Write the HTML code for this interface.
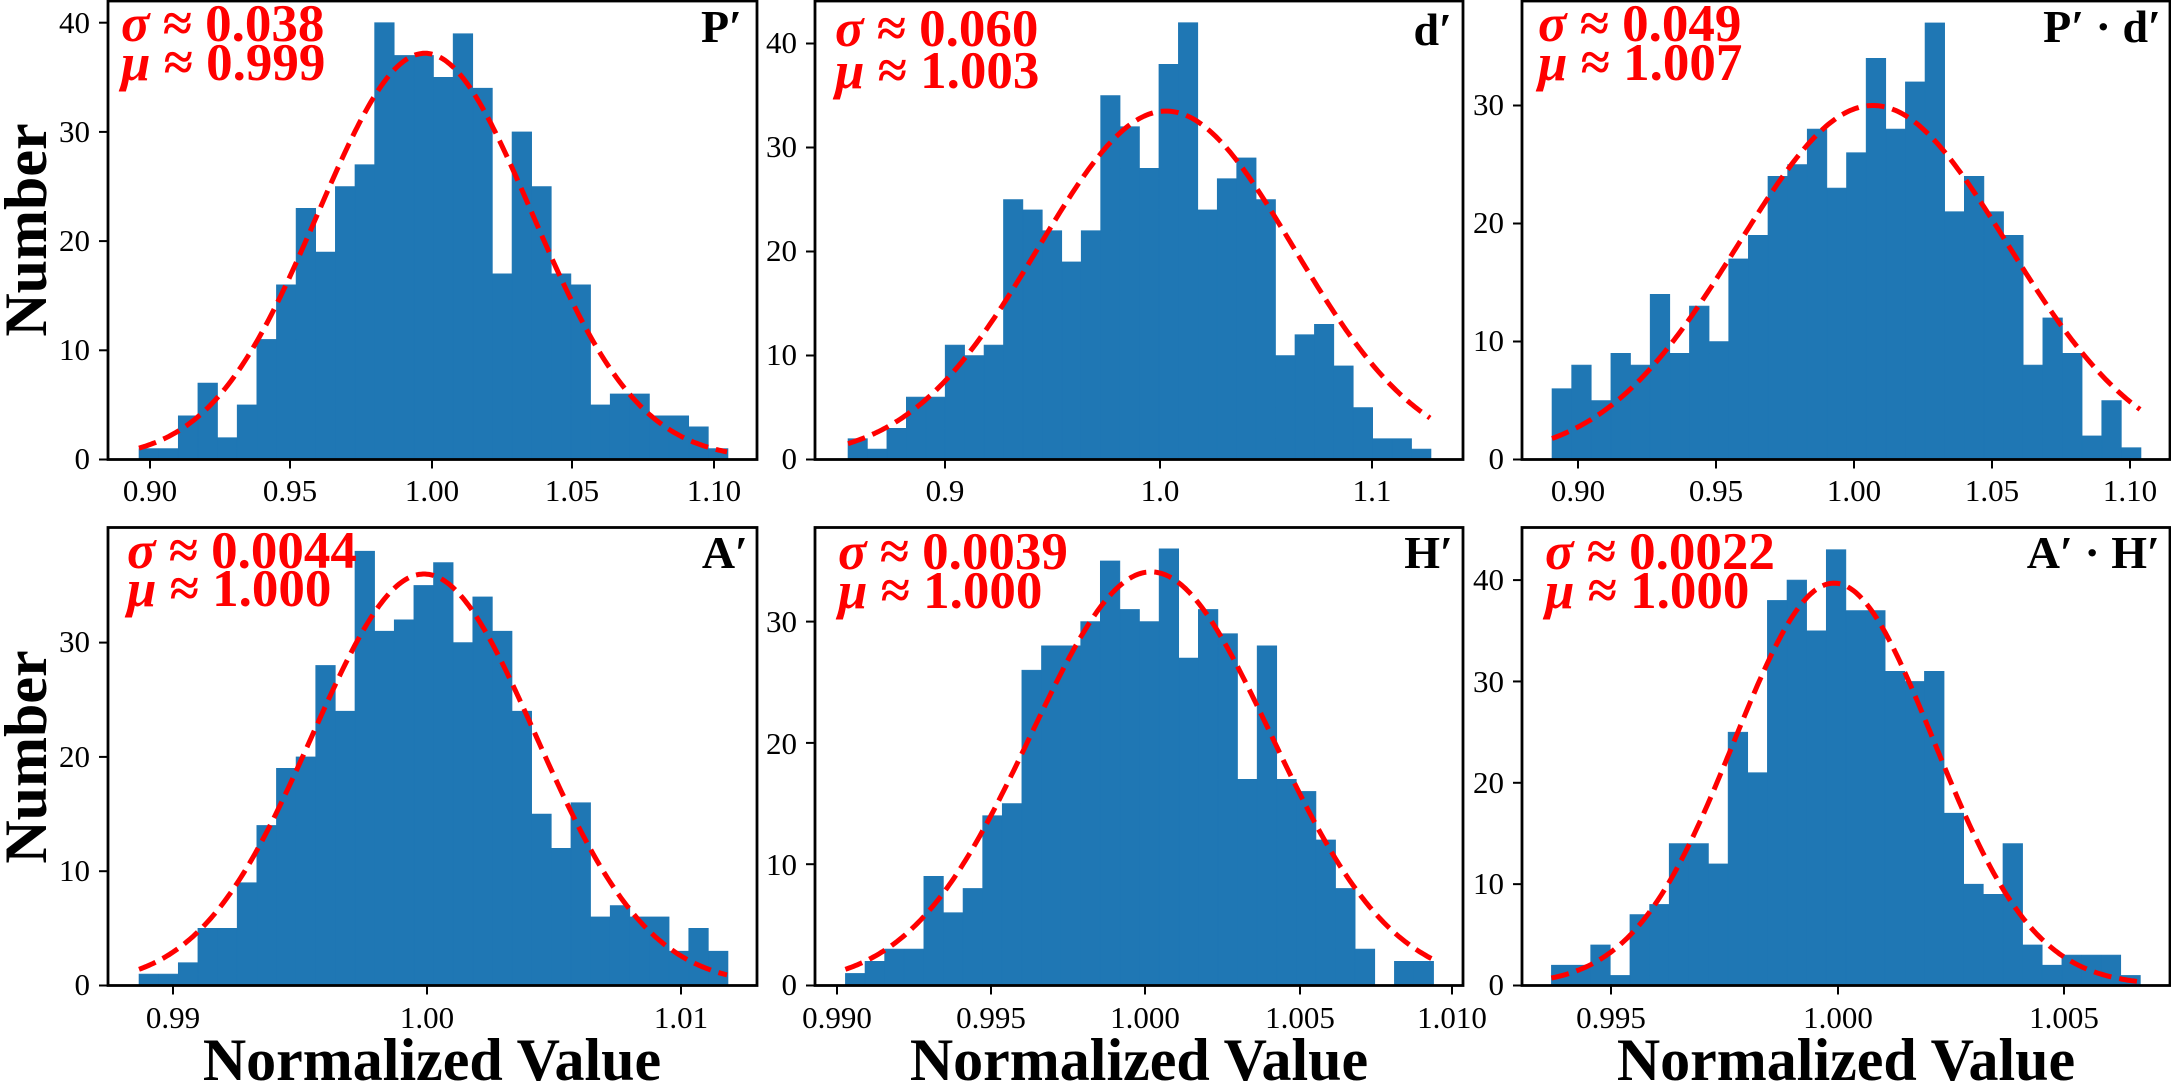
<!DOCTYPE html>
<html><head><meta charset="utf-8"><style>
html,body{margin:0;padding:0;background:#fff;}
svg{display:block;}
.t{font-family:"Liberation Serif",serif;font-size:31px;fill:#000;}
.a{font-family:"Liberation Serif",serif;font-size:53px;font-weight:bold;fill:#f00;}
.ti{font-family:"Liberation Serif",serif;font-size:46px;font-weight:bold;fill:#000;}
.lb{font-family:"Liberation Serif",serif;font-size:60px;font-weight:bold;fill:#000;}
</style></head><body>
<svg id="s" width="2171" height="1083" viewBox="0 0 2171 1083" xmlns="http://www.w3.org/2000/svg">
<g id="plots"></g>
<g class="t" text-anchor="end">
<text x="90" y="469">0</text><text x="90" y="360">10</text><text x="90" y="251">20</text><text x="90" y="142">30</text><text x="90" y="33">40</text>
<text x="797" y="469">0</text><text x="797" y="365">10</text><text x="797" y="261">20</text><text x="797" y="157">30</text><text x="797" y="53">40</text>
<text x="1504" y="469">0</text><text x="1504" y="351">10</text><text x="1504" y="233">20</text><text x="1504" y="115">30</text>
<text x="90" y="995">0</text><text x="90" y="881">10</text><text x="90" y="767">20</text><text x="90" y="652">30</text>
<text x="797" y="995">0</text><text x="797" y="875">10</text><text x="797" y="754">20</text><text x="797" y="632">30</text>
<text x="1504" y="995">0</text><text x="1504" y="894">10</text><text x="1504" y="793">20</text><text x="1504" y="692">30</text><text x="1504" y="590">40</text>
</g>
<g class="t" text-anchor="middle">
<text x="150" y="501">0.90</text><text x="290" y="501">0.95</text><text x="432" y="501">1.00</text><text x="572" y="501">1.05</text><text x="714" y="501">1.10</text>
<text x="945" y="501">0.9</text><text x="1160" y="501">1.0</text><text x="1372" y="501">1.1</text>
<text x="1578" y="501">0.90</text><text x="1716" y="501">0.95</text><text x="1854" y="501">1.00</text><text x="1992" y="501">1.05</text><text x="2130" y="501">1.10</text>
<text x="173" y="1028">0.99</text><text x="427" y="1028">1.00</text><text x="681" y="1028">1.01</text>
<text x="837" y="1028">0.990</text><text x="991" y="1028">0.995</text><text x="1145" y="1028">1.000</text><text x="1300" y="1028">1.005</text><text x="1452" y="1028">1.010</text>
<text x="1611" y="1028">0.995</text><text x="1838" y="1028">1.000</text><text x="2064" y="1028">1.005</text>
</g>
<g class="a">
<text x="121" y="41"><tspan font-style="italic">σ</tspan> ≈ 0.038</text><text x="121" y="80"><tspan font-style="italic">μ</tspan> ≈ 0.999</text>
<text x="835" y="46"><tspan font-style="italic">σ</tspan> ≈ 0.060</text><text x="835" y="88"><tspan font-style="italic">μ</tspan> ≈ 1.003</text>
<text x="1538" y="41"><tspan font-style="italic">σ</tspan> ≈ 0.049</text><text x="1538" y="80"><tspan font-style="italic">μ</tspan> ≈ 1.007</text>
<text x="127" y="568"><tspan font-style="italic">σ</tspan> ≈ 0.0044</text><text x="127" y="606"><tspan font-style="italic">μ</tspan> ≈ 1.000</text>
<text x="838" y="569"><tspan font-style="italic">σ</tspan> ≈ 0.0039</text><text x="838" y="608"><tspan font-style="italic">μ</tspan> ≈ 1.000</text>
<text x="1545" y="569"><tspan font-style="italic">σ</tspan> ≈ 0.0022</text><text x="1545" y="608"><tspan font-style="italic">μ</tspan> ≈ 1.000</text>
</g>
<g class="ti" text-anchor="end">
<text x="742" y="42">P′</text>
<text x="1452" y="45">d′</text>
<text x="2161" y="42">P′ · d′</text>
<text x="748" y="568">A′</text>
<text x="1453" y="568">H′</text>
<text x="2160" y="568">A′ · H′</text>
</g>
<g class="lb" text-anchor="middle">
<text transform="translate(46,230) rotate(-90)">Number</text>
<text transform="translate(46,757) rotate(-90)">Number</text>
<text x="432" y="1080">Normalized Value</text>
<text x="1139" y="1080">Normalized Value</text>
<text x="1846" y="1080">Normalized Value</text>
</g>
</svg>
<script>
var P=[
{l:108,r:757,t:1,b:459.5,x0:139,x1:728,k:10.92,mu:425,sg:107,A:37.2,
 v:[1,1,4,7,2,5,11,16,23,19,25,27,40,37,37,35,39,34,17,30,25,17,16,5,6,6,4,4,3,1],yt:[0,10,20,30,40],xt:[150,290,432,572,714]},
{l:815,r:1463,t:1,b:459.5,x0:848,x1:1431,k:10.4,mu:1166,sg:128,A:33.5,
 v:[2,1,3,6,6,11,10,11,25,24,22,19,22,35,32,28,38,42,24,27,29,25,10,12,13,9,5,2,2,1],yt:[0,10,20,30,40],xt:[945,1160,1372]},
{l:1522,r:2170,t:1,b:459.5,x0:1552,x1:2141,k:11.8,mu:1873,sg:135,A:30,
 v:[6,8,5,9,8,14,9,13,10,17,19,24,25,28,23,26,34,28,32,37,21,24,21,19,8,12,9,2,5,1],yt:[0,10,20,30],xt:[1578,1716,1854,1992,2130]},
{l:108,r:757,t:527.5,b:985.5,x0:139,x1:728,k:11.43,mu:424,sg:112,A:36,
 v:[1,1,2,5,5,9,14,19,20,28,24,38,31,32,35,37,30,34,31,24,15,12,16,6,7,6,6,3,5,3],yt:[0,10,20,30],xt:[173,427,681]},
{l:815,r:1463,t:527.5,b:985.5,x0:845.4,x1:1433.6,k:12.13,mu:1151,sg:120,A:34.1,
 v:[1,2,3,3,9,6,8,14,15,26,28,28,30,35,31,30,36,27,31,29,17,28,17,16,12,8,3,0,2,2],yt:[0,10,20,30],xt:[837,991,1145,1300,1452]},
{l:1522,r:2170,t:527.5,b:985.5,x0:1551.4,x1:2140.4,k:10.135,mu:1834,sg:100,A:39.7,
 v:[2,2,4,1,7,8,14,14,12,25,21,38,40,35,43,37,37,31,30,31,17,10,9,14,4,2,3,3,3,1],yt:[0,10,20,30,40],xt:[1611,1838,2064]}
];
var h='';
P.forEach(function(p){
 var w=(p.x1-p.x0)/30;
 var d='';
 p.v.forEach(function(c,i){ if(c>0){var x=p.x0+i*w,y=p.b-c*p.k; d+='M'+x.toFixed(2)+' '+p.b+'H'+(x+w).toFixed(2)+'V'+y.toFixed(2)+'H'+x.toFixed(2)+'Z';}});
 h+='<path d="'+d+'" fill="#1f77b4" stroke="#1f77b4" stroke-width="0.6"/>';
 var pts=[];
 for(var x=p.x0;x<=p.x1+0.01;x+=2){var y=p.b-p.A*p.k*Math.exp(-0.5*Math.pow((x-p.mu)/p.sg,2));pts.push(x.toFixed(1)+','+y.toFixed(1));}
 h+='<polyline points="'+pts.join(' ')+'" fill="none" stroke="#ff0000" stroke-width="5" stroke-dasharray="18,8"/>';
 h+='<rect x="'+p.l+'" y="'+p.t+'" width="'+(p.r-p.l)+'" height="'+(p.b-p.t)+'" fill="none" stroke="#000" stroke-width="2.8"/>';
 p.yt.forEach(function(v){var y=p.b-v*p.k;h+='<line x1="'+(p.l-9)+'" x2="'+p.l+'" y1="'+y+'" y2="'+y+'" stroke="#000" stroke-width="2"/>';});
 p.xt.forEach(function(x){h+='<line x1="'+x+'" x2="'+x+'" y1="'+p.b+'" y2="'+(p.b+9)+'" stroke="#000" stroke-width="2"/>';});
});
document.getElementById('plots').innerHTML=h;
</script>
</body></html>
